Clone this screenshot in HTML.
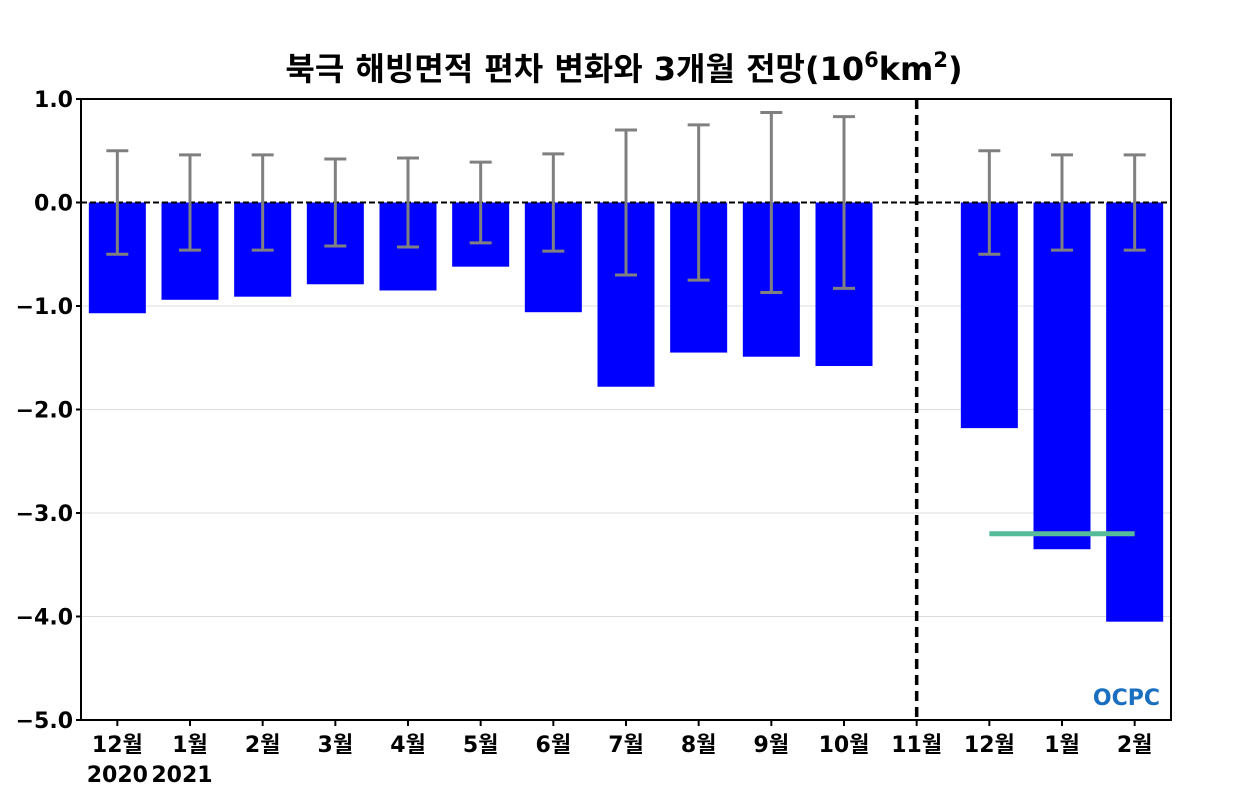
<!DOCTYPE html>
<html><head><meta charset="utf-8"><style>
body{margin:0;background:#fff;}
text{font-family:"DejaVu Sans","Liberation Sans","Noto Sans CJK KR",sans-serif;font-weight:bold;}
</style></head><body>
<svg id="c" width="1250" height="800" xmlns="http://www.w3.org/2000/svg"></svg>
<script>
const categories=["12월","1월","2월","3월","4월","5월","6월","7월","8월","9월","10월","11월","12월","1월","2월"];
const values=[-1.07,-0.94,-0.91,-0.79,-0.85,-0.62,-1.06,-1.78,-1.45,-1.49,-1.58,0,-2.18,-3.35,-4.05];
const errors=[0.5,0.46,0.46,0.42,0.43,0.39,0.47,0.70,0.75,0.87,0.83,null,0.50,0.46,0.46];
const yTicks=[1,0,-1,-2,-3,-4,-5];
const yLabels=["1.0","0.0","−1.0","−2.0","−3.0","−4.0","−5.0"];
const climLine=-3.2;
const NS="http://www.w3.org/2000/svg";
const svg=document.getElementById('c');
const L=81,R=1171,T=99,B=720;
const y=v=>T+(1-v)/6*(B-T);
const step=(R-L)/categories.length;
const x=i=>L+step*(i+0.5);
function mk(t,a,p){const e=document.createElementNS(NS,t);for(const k in a)e.setAttribute(k,a[k]);(p||svg).appendChild(e);return e;}
yTicks.forEach((v,i)=>{
 if(v!==0&&v!==1&&v!==-5){const g=mk('line',{x1:L,x2:R,y1:y(v),y2:y(v),stroke:'#ddd','stroke-width':1});
 
 }
 const t=mk('text',{x:L-8,y:y(v)+8,'text-anchor':'end','font-size':22});t.textContent=yLabels[i];
 
 
 mk('line',{x1:L-5,x2:L,y1:y(v),y2:y(v),stroke:'#000','stroke-width':2});
});
values.forEach((v,i)=>{
 const bw=57;
 if(v!==0){const r=mk('rect',{x:x(i)-bw/2,y:y(0),width:bw,height:y(v)-y(0),fill:'#0000ff'});
 
 }
});
mk('line',{x1:L,x2:R,y1:y(0),y2:y(0),stroke:'#000','stroke-width':2,'stroke-dasharray':'6,3'});
errors.forEach((e,i)=>{
 if(e==null)return;
 const g=mk('g',{stroke:'#808080','stroke-width':3});
 
 
 mk('line',{x1:x(i),x2:x(i),y1:y(e),y2:y(-e)},g);
 mk('line',{x1:x(i)-11,x2:x(i)+11,y1:y(e),y2:y(e)},g);
 mk('line',{x1:x(i)-11,x2:x(i)+11,y1:y(-e),y2:y(-e)},g);
});
const cl=mk('line',{x1:x(12),x2:x(14),y1:y(climLine),y2:y(climLine),stroke:'#55bb99','stroke-width':5});


const dv=mk('line',{x1:x(11),x2:x(11),y1:T,y2:B,stroke:'#000','stroke-width':3.5,'stroke-dasharray':'10,6'});


const fr=mk('rect',{x:L,y:T,width:R-L,height:B-T,fill:'none',stroke:'#000','stroke-width':2});


categories.forEach((c,i)=>{
 mk('line',{x1:x(i),x2:x(i),y1:B,y2:B+6,stroke:'#000','stroke-width':2});
 const t=mk('text',{x:x(i),y:752,'text-anchor':'middle','font-size':22});t.textContent=c;
 
 
});
[["2020",0],["2021",1]].forEach(([s,i])=>{const t=mk('text',{x:x(i)+(i?-8:0),y:782,'text-anchor':'middle','font-size':22});t.textContent=s;
 
 });
const lg=mk('text',{x:1160,y:705,'text-anchor':'end','font-size':22,fill:'#1a6fc0'});lg.textContent="OCPC";


const ti=mk('text',{x:624,y:80,'text-anchor':'middle','font-size':32});


ti.innerHTML='북극 해빙면적 편차 변화와 3개월 전망(10<tspan dy="-13" font-size="21">6</tspan><tspan dy="13">km</tspan><tspan dy="-13" font-size="21">2</tspan><tspan dy="13">)</tspan>';
</script>
</body></html>
